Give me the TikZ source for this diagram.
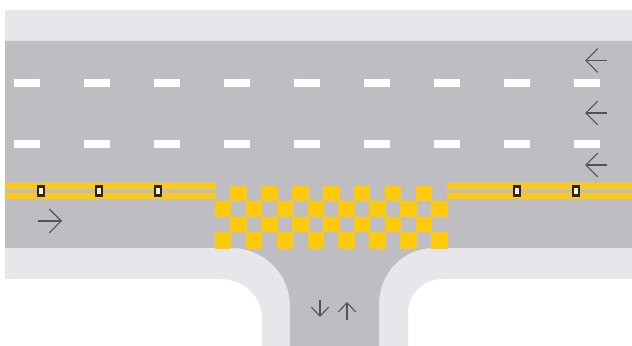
\documentclass[tikz,border=0pt]{standalone}
\usetikzlibrary{arrows.meta}
\definecolor{RoadGray}{RGB}{190, 190, 194}
\definecolor{WalkGray}{RGB}{231, 231, 235}
\definecolor{LineYellow}{RGB}{255, 201, 13}
\definecolor{PostDark}{RGB}{46, 36, 16}
\definecolor{PostFill}{RGB}{245, 240, 215}
\definecolor{ArrowGray}{RGB}{82, 82, 88}

\begin{document}
\begin{tikzpicture}[
  x=0.025cm, y=-0.025cm,
  walk/.style={fill=WalkGray},
  road/.style={fill=RoadGray},
  lane/.style={fill=white},
  edgeline/.style={fill=LineYellow},
  post/.style={fill=PostFill, draw=PostDark, line width=1.6pt},
  check/.style={fill=LineYellow},
  dir/.style={-{Straight Barb[length=8.5pt, width=17pt]}, line width=0.8pt, draw=ArrowGray},
  dirsmall/.style={dir, -{Straight Barb[length=6.5pt, width=12.5pt]}}
]
  \useasboundingbox (0,0) rectangle (632,346);
  \fill[white] (0,0) rectangle (632,346);

  \fill[walk] (5,10) rectangle (632,60);
  \fill[walk] (5,230) -- (632,230) -- (632,279) -- (442,279)
    .. controls (423,279) and (408,294) .. (408,313) -- (408,346) -- (262,346) -- (262,318)
    .. controls (262,296) and (244,279) .. (220,279) -- (5,279) -- cycle;
  \fill[road] (5,41) -- (632,41) -- (632,248) -- (434,248)
    .. controls (403,248) and (379,273) .. (379,304) -- (379,346) -- (290,346) -- (290,306)
    .. controls (290,274) and (264,248) .. (232,248) -- (5,248) -- cycle;

  \foreach \x in {14,84,...,574} {
    \fill[lane] (\x,79) rectangle +(26,8);
    \fill[lane] (\x,140) rectangle +(26,8);
  }

  \fill[edgeline] (5,183) rectangle (216,189);
  \fill[edgeline] (5,193) rectangle (216,199);
  \fill[edgeline] (447,183) rectangle (632,189);
  \fill[edgeline] (447,193) rectangle (632,199);

  \foreach \x in {41,99,158,517,576}
    \draw[post] (\x-2.7,186.5) rectangle (\x+2.7,195.5);

  \foreach \i in {0,...,7} {
    \fill[check] (214.8+\i*30.9,201) rectangle +(16.5,16);
    \fill[check] (214.8+\i*30.9,232.5) rectangle +(16.5,16.5);
  }
  \foreach \i in {0,...,6} {
    \fill[check] (230.3+\i*30.9,186) rectangle +(16.5,15);
    \fill[check] (230.3+\i*30.9,217) rectangle +(16.5,15.5);
  }

  \coordinate (e1s) at (607,60.5);  \coordinate (e1t) at (585,60.5);
  \coordinate (e2s) at (607,113); \coordinate (e2t) at (585,113);
  \coordinate (e3s) at (607,165); \coordinate (e3t) at (585,165);
  \coordinate (w1s) at (38,221);  \coordinate (w1t) at (62,221);
  \coordinate (s1s) at (320,300); \coordinate (s1t) at (320,317);
  \coordinate (n1s) at (347,320); \coordinate (n1t) at (347,302);

  \draw[dir] (e1s) -- (e1t);
  \draw[dir] (e2s) -- (e2t);
  \draw[dir] (e3s) -- (e3t);
  \draw[dir] (w1s) -- (w1t);
  \draw[dirsmall] (s1s) -- (s1t);
  \draw[dirsmall] (n1s) -- (n1t);
\end{tikzpicture}
\end{document}
